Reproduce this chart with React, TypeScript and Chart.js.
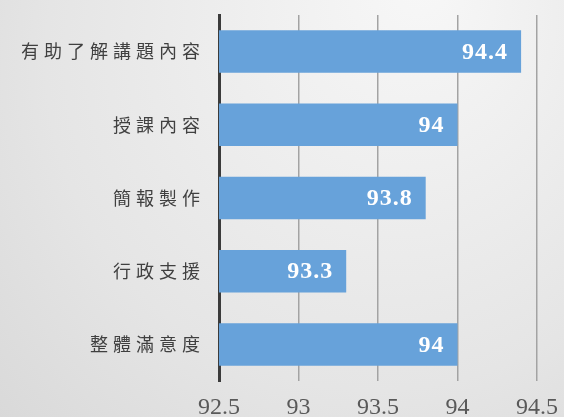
import React, { useEffect, useRef } from "react";
import { Chart, registerables } from "chart.js";

Chart.register(...registerables);

const categories = ["有助了解講題內容", "授課內容", "簡報製作", "行政支援", "整體滿意度"];
const scores = [94.4, 94, 93.8, 93.3, 94];
const xTicks = [92.5, 93, 93.5, 94, 94.5];

const bgPlugin = {
  id: "bgGradient",
  beforeDraw(chart: any) {
    const { ctx, width, height } = chart;
    ctx.save();
    const g = ctx.createRadialGradient(width * 0.75, -20, 10, width * 0.6, height * 0.3, width * 1.05);
    g.addColorStop(0, "#f7f7f7");
    g.addColorStop(0.55, "#e5e5e5");
    g.addColorStop(1, "#d0d0d0");
    ctx.fillStyle = g;
    ctx.fillRect(0, 0, width, height);
    ctx.restore();
  },
};

const spacingPlugin = {
  id: "letterSpacing",
  afterLayout(chart: any) {
    const y = chart.scales.y;
    if (y && !y._wrapped) {
      const orig = y.drawLabels.bind(y);
      y.drawLabels = (area: any) => {
        const ctx = chart.ctx;
        ctx.save();
        (ctx as any).letterSpacing = "5px";
        orig(area);
        ctx.restore();
      };
      y._wrapped = true;
    }
  },
};

const valueLabels = {
  id: "valueLabels",
  afterDatasetsDraw(chart: any) {
    const { ctx } = chart;
    const meta = chart.getDatasetMeta(0);
    ctx.save();
    ctx.fillStyle = "#ffffff";
    ctx.font = "bold 24px 'Liberation Serif', serif";
    ctx.textAlign = "right";
    ctx.textBaseline = "middle";
    (ctx as any).letterSpacing = "1px";
    meta.data.forEach((bar: any, i: number) => {
      ctx.fillText(String(scores[i]), bar.x - 13, bar.y + 1);
    });
    ctx.restore();
  },
};

export default function App() {
  const ref = useRef<HTMLCanvasElement>(null);
  useEffect(() => {
    document.body.style.margin = "0";
    const chart = new Chart(ref.current!, {
      type: "bar",
      data: {
        labels: categories,
        datasets: [
          {
            data: scores,
            backgroundColor: "#67a2da",
            barPercentage: 0.58,
            categoryPercentage: 1,
          },
        ],
      },
      options: {
        indexAxis: "y",
        animation: false,
        responsive: false,
        devicePixelRatio: 1,
        layout: { padding: { top: 15, right: 27, left: 0, bottom: 0 } },
        plugins: { legend: { display: false }, tooltip: { enabled: false } },
        scales: {
          x: {
            min: 92.5,
            max: 94.5,
            afterBuildTicks: (s: any) => {
              s.ticks = xTicks.map((v) => ({ value: v }));
            },
            grid: { color: "#a3a3a3", lineWidth: 1.5, drawTicks: false },
            border: { display: false },
            ticks: {
              color: "#595959",
              padding: 12,
              font: { family: "'Liberation Serif', serif", size: 24 },
              callback: (v: any) => String(v),
            },
            afterFit: (s: any) => {
              s.height = 36;
              s.paddingLeft = 0;
              s.paddingRight = 0;
            },
          },
          y: {
            grid: { display: false, drawTicks: false },
            border: { color: "#3b3b3b", width: 3 },
            ticks: {
              color: "#404040",
              padding: 14,
              font: { family: "'Noto Sans CJK TC', sans-serif", size: 18 },
            },
            afterFit: (s: any) => {
              s.width = 219;
              s.paddingTop = 0;
              s.paddingBottom = 0;
            },
          },
        },
      },
      plugins: [bgPlugin, spacingPlugin, valueLabels],
    });
    return () => chart.destroy();
  }, []);
  return <canvas ref={ref} width={564} height={417} style={{ display: "block" }} />;
}
